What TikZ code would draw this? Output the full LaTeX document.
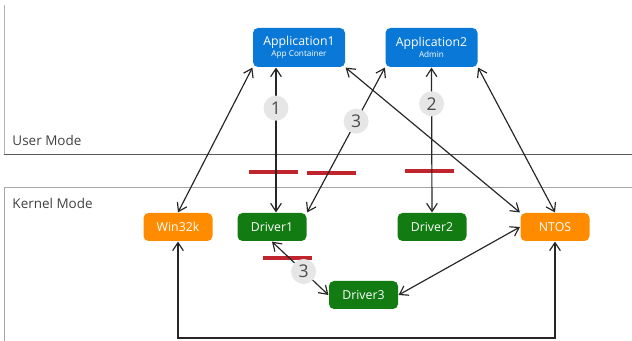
\documentclass[tikz,border=0pt]{standalone}
\usepackage{fontspec}
\setmainfont{Open Sans}
\usetikzlibrary{arrows.meta}
\definecolor{appblue}{HTML}{0A78D7}
\definecolor{drvgreen}{HTML}{127C12}
\definecolor{sysorange}{HTML}{FF8C00}
\definecolor{blockred}{HTML}{C0242C}
\definecolor{taggray}{HTML}{E6E6E6}

\begin{document}
\begin{tikzpicture}[x=0.3mm,y=-0.3mm,line width=1pt,
  box/.style={rounded corners=1.5mm, text=white, font=\fontsize{10.5}{12}\selectfont, inner sep=0pt},
  app/.style={box, fill=appblue, minimum width=27.6mm, minimum height=11.7mm, align=center},
  drv/.style={box, fill=drvgreen, minimum width=20.7mm, minimum height=8.4mm},
  sys/.style={box, fill=sysorange, minimum width=20.7mm, minimum height=8.4mm},
  link/.style={draw=black!85, {Straight Barb[length=2.4mm,width=3.2mm]}-{Straight Barb[length=2.4mm,width=3.2mm]}},
  tag/.style={circle, fill=taggray, text=black!70, inner sep=0pt, minimum size=7.5mm, font=\fontsize{15}{15}\selectfont},
  mode/.style={text=black!75, font=\fontsize{11.5}{13}\selectfont, anchor=west},
  bar/.style={draw=blockred, line width=1.2mm}]
  \useasboundingbox (0,0) rectangle (632,341);
  \draw[black!30, line width=0.6pt] (4,5) -- (4,154);
  \draw[black!65, line width=0.6pt] (4,154) -- (632,154);
  \draw[black!35, line width=0.6pt] (4,341) -- (4,187) -- (632,187);
  \node[mode] (user) at (8,140) {User Mode};
  \node[mode] (kernel) at (8,203) {Kernel Mode};
  \draw[bar] (249,172.5) -- (298,172.5);
  \draw[bar] (307,173) -- (356,173);
  \draw[bar] (405,171) -- (454,171);
  \draw[bar] (263,258) -- (312,258);
  \node[app] (app1) at (299,47.5) {Application1\\[-3pt]{\fontsize{7}{8}\selectfont App Container}};
  \node[app] (app2) at (431.5,47.5) {Application2\\[-3pt]{\fontsize{7}{8}\selectfont Admin}};
  \node[sys] (w32) at (178,227) {Win32k};
  \node[drv] (drv1) at (272,227) {Driver1};
  \node[drv] (drv2) at (432,227) {Driver2};
  \node[sys] (ntos) at (555,227) {NTOS};
  \node[drv] (drv3) at (363.5,295) {Driver3};
  \coordinate (floor) at (360,338);
  \draw[link] (w32.north) -- (app1.south west);
  \draw[link] ([xshift=1.2mm]drv1.north) -- ([xshift=1.2mm]drv1.north |- app1.south) node[tag, pos=0.72] (step1) {1};
  \draw[link] (drv1.north east) -- (app2.south west) node[tag, pos=0.63] (step3a) {3};
  \draw[link] (app1.south east) -- (ntos.north west);
  \draw[link] (drv2.north) -- (app2.south) node[tag, pos=0.75] (step2) {2};
  \draw[link] (ntos.north) -- (app2.south east);
  \draw[link] (drv1.south) -- (drv3.west) node[tag, pos=0.56] (step3b) {3};
  \draw[link] (drv3.east) -- (ntos.west);
  \draw[link] (w32.south) |- (floor) -| (ntos.south);
\end{tikzpicture}
\end{document}
